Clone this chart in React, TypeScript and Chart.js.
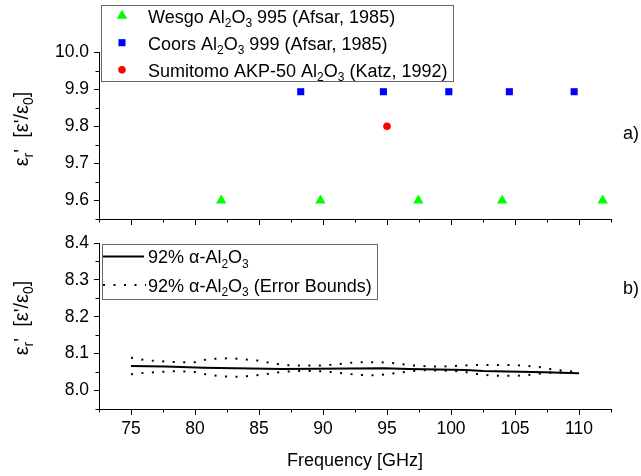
import React, { useEffect, useRef } from 'react';
import { Chart, registerables } from 'chart.js';

Chart.register(...registerables);

// ---------------- data ----------------
const wesgoFreq = [82.05, 89.8, 97.45, 104.0, 111.85];
const wesgoEps = [9.6, 9.6, 9.6, 9.6, 9.6];
const coorsFreq = [88.26, 94.72, 99.83, 104.56, 109.62];
const coorsEps = [9.893, 9.893, 9.893, 9.893, 9.893];
const sumitomoFreq = [95.0];
const sumitomoEps = [9.8];

const mainFreq = [75, 77.7, 80.7, 83.1, 86.8, 94.8, 96.7, 101.2, 102.5, 107.3, 110];
const mainEps = [8.0667, 8.065, 8.062, 8.0605, 8.0586, 8.0605, 8.0586, 8.056, 8.053, 8.0497, 8.047];

const boundFreq = [75, 76, 77, 78, 79, 80, 81, 82, 83, 84, 85, 86, 87, 88, 89, 90, 91, 92, 93, 94, 95, 96, 97, 98, 99, 100, 101, 102, 103, 104, 105, 106, 107, 108, 109, 110];
const upperEps = [8.089, 8.083, 8.080, 8.078, 8.077, 8.077, 8.085, 8.087, 8.0875, 8.084, 8.081, 8.074, 8.069, 8.0676, 8.0676, 8.0676, 8.071, 8.075, 8.077, 8.077, 8.076, 8.072, 8.068, 8.066, 8.065, 8.066, 8.068, 8.069, 8.069, 8.069, 8.069, 8.067, 8.063, 8.057, 8.053, 8.050];
const lowerEps = [8.044, 8.048, 8.050, 8.052, 8.052, 8.050, 8.043, 8.039, 8.037, 8.039, 8.042, 8.047, 8.051, 8.053, 8.053, 8.052, 8.049, 8.045, 8.042, 8.0416, 8.044, 8.049, 8.053, 8.055, 8.054, 8.054, 8.051, 8.045, 8.041, 8.040, 8.040, 8.042, 8.046, 8.049, 8.049, 8.048];

const xTicks = [75, 80, 85, 90, 95, 100, 105, 110];
const xMinorTicks = [72.5, 77.5, 82.5, 87.5, 92.5, 97.5, 102.5, 107.5, 112.5];
const topYTicks = [9.6, 9.7, 9.8, 9.9, 10.0];
const topYMinor = [9.55, 9.65, 9.75, 9.85, 9.95];
const botYTicks = [8.0, 8.1, 8.2, 8.3, 8.4];
const botYMinor = [7.95, 8.05, 8.15, 8.25, 8.35];

const xTitle = 'Frequency [GHz]';

// ---------------- styling ----------------
const FONT = "'Liberation Sans', Arial, sans-serif";
const W = 641;
const H = 476;

type Seg = { t: string; sub?: boolean };

function drawRich(ctx: CanvasRenderingContext2D, segs: Seg[], x: number, y: number, size: number, align: 'left' | 'center') {
  const mainF = `${size}px ${FONT}`;
  const subF = `${Math.round(size * 0.68)}px ${FONT}`;
  let w = 0;
  for (const s of segs) {
    ctx.font = s.sub ? subF : mainF;
    w += ctx.measureText(s.t).width;
  }
  let cx = align === 'center' ? x - w / 2 : x;
  ctx.textAlign = 'left';
  ctx.textBaseline = 'alphabetic';
  for (const s of segs) {
    ctx.font = s.sub ? subF : mainF;
    ctx.fillText(s.t, cx, s.sub ? y + size * 0.24 : y);
    cx += ctx.measureText(s.t).width;
  }
}

const yTitleSegs: Seg[] = [
  { t: 'ε' }, { t: 'r', sub: true }, { t: "'" }, { t: "  [ε'/ε" }, { t: '0', sub: true }, { t: ']' },
];

function minorTicks(chart: any, xs: number[], ys: number[]) {
  const ctx = chart.ctx as CanvasRenderingContext2D;
  const a = chart.chartArea;
  const sx = chart.scales.x;
  const sy = chart.scales.y;
  ctx.save();
  ctx.strokeStyle = '#000';
  ctx.lineWidth = 1;
  ctx.beginPath();
  for (const v of xs) {
    const p = Math.round(sx.getPixelForValue(v)) + 0.5;
    ctx.moveTo(p, a.bottom);
    ctx.lineTo(p, a.bottom + 3.5);
  }
  for (const v of ys) {
    const p = Math.round(sy.getPixelForValue(v)) + 0.5;
    ctx.moveTo(a.left, p);
    ctx.lineTo(a.left - 3.5, p);
  }
  ctx.stroke();
  ctx.restore();
}

function xScale(showLabels: boolean) {
  return {
    type: 'linear',
    min: 72.5,
    max: 112.5,
    afterBuildTicks: (s: any) => {
      s.ticks = xTicks.map((v) => ({ value: v }));
    },
    afterFit: (s: any) => {
      s.height = showLabels ? 67 : 20;
    },
    grid: { drawOnChartArea: false, drawTicks: true, tickLength: 6, tickColor: '#000', tickWidth: 1 },
    border: { display: true, color: '#000', width: 1 },
    ticks: {
      display: showLabels,
      color: '#000',
      font: { family: FONT, size: 17.5 },
      padding: 4,
      maxRotation: 0,
      autoSkip: false,
      callback: (v: any) => String(v),
    },
  };
}

function yScale(min: number, max: number, ticks: number[]) {
  return {
    type: 'linear',
    min,
    max,
    afterBuildTicks: (s: any) => {
      s.ticks = ticks.map((v) => ({ value: v }));
    },
    afterFit: (s: any) => {
      s.width = 99;
    },
    grid: { drawOnChartArea: false, drawTicks: true, tickLength: 5, tickColor: '#000', tickWidth: 1 },
    border: { display: true, color: '#000', width: 1 },
    ticks: {
      color: '#000',
      font: { family: FONT, size: 17.5 },
      padding: 5,
      autoSkip: false,
      callback: (v: any) => Number(v).toFixed(1),
    },
  };
}

function drawMarker(ctx: CanvasRenderingContext2D, style: string, x: number, y: number, r: number) {
  ctx.beginPath();
  if (style === 'triangle') {
    ctx.moveTo(x, y - r);
    ctx.lineTo(x + r * Math.sin((2 * Math.PI) / 3), y - r * Math.cos((2 * Math.PI) / 3));
    ctx.lineTo(x + r * Math.sin((4 * Math.PI) / 3), y - r * Math.cos((4 * Math.PI) / 3));
    ctx.closePath();
  } else if (style === 'rect') {
    const s = r * Math.SQRT1_2;
    ctx.rect(x - s, y - s, 2 * s, 2 * s);
  } else {
    ctx.arc(x, y, r, 0, Math.PI * 2);
  }
  ctx.fill();
}

const topDecor = {
  id: 'topDecor',
  afterDraw(chart: any) {
    const ctx = chart.ctx as CanvasRenderingContext2D;
    minorTicks(chart, xMinorTicks, topYMinor);
    ctx.save();
    // legend box
    ctx.fillStyle = '#fff';
    ctx.fillRect(101, 5, 353, 77);
    ctx.strokeStyle = '#666';
    ctx.lineWidth = 1;
    ctx.strokeRect(101.5, 5.5, 352, 76);
    const rows: { segs: Seg[]; style: string; color: string; r: number }[] = [
      { segs: [{ t: 'Wesgo Al' }, { t: '2', sub: true }, { t: 'O' }, { t: '3', sub: true }, { t: ' 995 (Afsar, 1985)' }], style: 'triangle', color: '#00ff00', r: 6 },
      { segs: [{ t: 'Coors Al' }, { t: '2', sub: true }, { t: 'O' }, { t: '3', sub: true }, { t: ' 999 (Afsar, 1985)' }], style: 'rect', color: '#0000ff', r: 5 },
      { segs: [{ t: 'Sumitomo AKP-50 Al' }, { t: '2', sub: true }, { t: 'O' }, { t: '3', sub: true }, { t: ' (Katz, 1992)' }], style: 'circle', color: '#ff0000', r: 3.8 },
    ];
    rows.forEach((row, i) => {
      const base = 22.7 + i * 27;
      ctx.fillStyle = row.color;
      drawMarker(ctx, row.style, 122, base - 7, row.r);
      ctx.fillStyle = '#000';
      drawRich(ctx, row.segs, 148, base, 18, 'left');
    });
    // y title
    ctx.fillStyle = '#000';
    ctx.save();
    ctx.translate(0, 129);
    ctx.rotate(-Math.PI / 2);
    drawRich(ctx, yTitleSegs, 0, 28, 20, 'center');
    ctx.restore();
    // panel label
    ctx.font = `18px ${FONT}`;
    ctx.textAlign = 'left';
    ctx.textBaseline = 'alphabetic';
    ctx.fillText('a)', 623, 139);
    ctx.restore();
  },
};

const botDecor = {
  id: 'botDecor',
  afterDraw(chart: any) {
    const ctx = chart.ctx as CanvasRenderingContext2D;
    minorTicks(chart, xMinorTicks, botYMinor);
    ctx.save();
    // legend box
    ctx.fillStyle = '#fff';
    ctx.fillRect(102, 244, 276, 55);
    ctx.strokeStyle = '#666';
    ctx.lineWidth = 1;
    ctx.strokeRect(102.5, 244.5, 275, 55);
    // solid sample
    ctx.strokeStyle = '#000';
    ctx.lineWidth = 2;
    ctx.beginPath();
    ctx.moveTo(103, 256.5);
    ctx.lineTo(144, 256.5);
    ctx.stroke();
    // dotted sample
    ctx.setLineDash([2, 8.5]);
    ctx.beginPath();
    ctx.moveTo(103, 285);
    ctx.lineTo(146, 285);
    ctx.stroke();
    ctx.setLineDash([]);
    ctx.fillStyle = '#000';
    drawRich(ctx, [{ t: '92% α-Al' }, { t: '2', sub: true }, { t: 'O' }, { t: '3', sub: true }], 148, 263.3, 18, 'left');
    drawRich(ctx, [{ t: '92% α-Al' }, { t: '2', sub: true }, { t: 'O' }, { t: '3', sub: true }, { t: ' (Error Bounds)' }], 148, 291.7, 18, 'left');
    // y title
    ctx.save();
    ctx.translate(0, 318);
    ctx.rotate(-Math.PI / 2);
    drawRich(ctx, yTitleSegs, 0, 28, 20, 'center');
    ctx.restore();
    // x title
    ctx.font = `18px ${FONT}`;
    ctx.textAlign = 'center';
    ctx.textBaseline = 'alphabetic';
    ctx.fillText(xTitle, (chart.chartArea.left + chart.chartArea.right) / 2, 466);
    // panel label
    ctx.textAlign = 'left';
    ctx.fillText('b)', 623, 294);
    ctx.restore();
  },
};

function pts(xs: number[], ys: number[]) {
  return xs.map((x, i) => ({ x, y: ys[i] }));
}

export default function App() {
  const topRef = useRef<HTMLCanvasElement>(null);
  const botRef = useRef<HTMLCanvasElement>(null);

  useEffect(() => {
    const top = new Chart(topRef.current as HTMLCanvasElement, {
      type: 'scatter',
      data: {
        datasets: [
          {
            label: 'Wesgo',
            data: pts(wesgoFreq, wesgoEps),
            pointStyle: 'triangle',
            pointRadius: 6,
            backgroundColor: '#00ff00',
            borderColor: '#00ff00',
            borderWidth: 0,
          },
          {
            label: 'Coors',
            data: pts(coorsFreq, coorsEps),
            pointStyle: 'rect',
            pointRadius: 5,
            backgroundColor: '#0000ff',
            borderColor: '#0000ff',
            borderWidth: 0,
          },
          {
            label: 'Sumitomo',
            data: pts(sumitomoFreq, sumitomoEps),
            pointStyle: 'circle',
            pointRadius: 3.8,
            backgroundColor: '#ff0000',
            borderColor: '#ff0000',
            borderWidth: 0,
          },
        ],
      },
      options: {
        responsive: false,
        animation: false,
        devicePixelRatio: 1,
        layout: { padding: { top: 52, left: 0, right: 30, bottom: H - 219 - 20 } },
        plugins: { legend: { display: false }, tooltip: { enabled: false } },
        scales: {
          x: xScale(false) as any,
          y: yScale(9.55, 10.0, topYTicks) as any,
        },
      },
      plugins: [topDecor],
    });

    const bot = new Chart(botRef.current as HTMLCanvasElement, {
      type: 'scatter',
      data: {
        datasets: [
          {
            label: 'upper',
            data: pts(boundFreq, upperEps),
            showLine: true,
            pointRadius: 0,
            borderColor: '#000',
            borderWidth: 2,
            borderDash: [2, 8.5],
            fill: false,
          },
          {
            label: 'lower',
            data: pts(boundFreq, lowerEps),
            showLine: true,
            pointRadius: 0,
            borderColor: '#000',
            borderWidth: 2,
            borderDash: [2, 8.5],
            fill: false,
          },
          {
            label: 'main',
            data: pts(mainFreq, mainEps),
            showLine: true,
            pointRadius: 0,
            borderColor: '#000',
            borderWidth: 2,
            fill: false,
          },
        ],
      },
      options: {
        responsive: false,
        animation: false,
        devicePixelRatio: 1,
        layout: { padding: { top: 243, left: 0, right: 30, bottom: 0 } },
        plugins: { legend: { display: false }, tooltip: { enabled: false } },
        scales: {
          x: xScale(true) as any,
          y: yScale(7.95, 8.4, botYTicks) as any,
        },
      },
      plugins: [botDecor],
    });

    return () => {
      top.destroy();
      bot.destroy();
    };
  }, []);

  return (
    <div style={{ position: 'absolute', left: 0, top: 0, width: W, height: H, background: '#fff' }}>
      <canvas ref={topRef} width={W} height={H} style={{ position: 'absolute', left: 0, top: 0 }} />
      <canvas ref={botRef} width={W} height={H} style={{ position: 'absolute', left: 0, top: 0 }} />
    </div>
  );
}
